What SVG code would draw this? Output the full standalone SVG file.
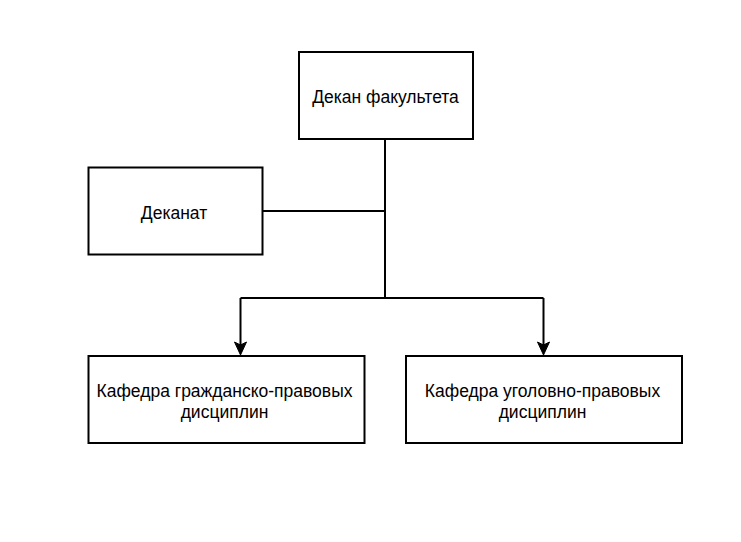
<svg xmlns="http://www.w3.org/2000/svg" width="741" height="542" viewBox="0 0 741 542">
<style>
.box{fill:#fff;stroke:#000;stroke-width:2}
.t{font-family:"Liberation Sans",Arial,sans-serif;font-size:17.5px;fill:#000;text-anchor:middle}
.c{fill:none;stroke:#000;stroke-width:2}
.ah{fill:#000;stroke:#000;stroke-width:1}
</style>
<rect width="741" height="542" fill="#fff"/>
<g id="connectors">
<path class="c" d="M385,139 V298"/>
<path class="c" d="M263,211 H385"/>
<path class="c" d="M240.5,298 H543.5"/>
<path class="c" d="M240.5,298 V346"/>
<path class="c" d="M543.5,298 V346"/>
<path class="ah" d="M240.5,355 L234.5,342 L240.5,345 L246.5,342 Z"/>
<path class="ah" d="M543.5,355 L537.5,342 L543.5,345 L549.5,342 Z"/>
</g>
<g id="dean">
<rect class="box" x="299" y="52" width="174" height="87"/>
<text class="t" x="385.5" y="103">Декан факультета</text>
</g>
<g id="deanery">
<rect class="box" x="88.5" y="167.5" width="174" height="87"/>
<text class="t" x="174" y="219">Деканат</text>
</g>
<g id="civil">
<rect class="box" x="88.5" y="356" width="276" height="87"/>
<text class="t" x="224.5" y="397">Кафедра гражданско-правовых</text>
<text class="t" x="224.5" y="418">дисциплин</text>
</g>
<g id="criminal">
<rect class="box" x="406" y="356" width="276" height="87"/>
<text class="t" x="542.5" y="397">Кафедра уголовно-правовых</text>
<text class="t" x="542.5" y="418">дисциплин</text>
</g>
</svg>
